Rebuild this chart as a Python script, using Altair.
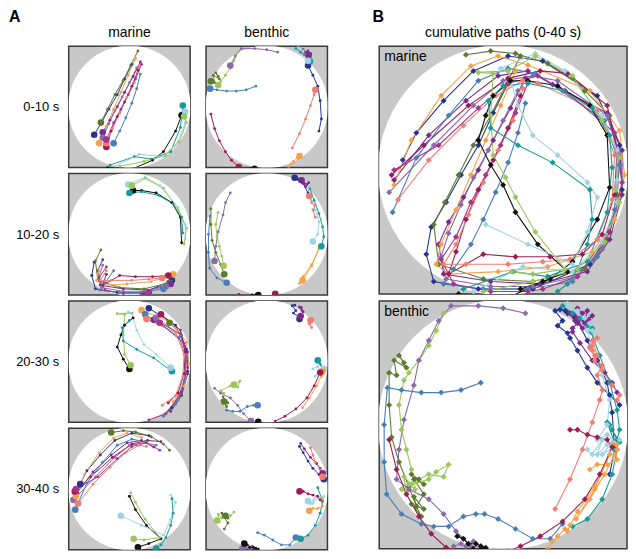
import altair as alt
import pandas as pd

# ---------------- data: positions (x 0-100 left->right, y 0-100 top->bottom), one sample every 2 s, t = 0..40 s
m_navy = [(52,15),(46,27),(40,40),(33,52),(27,63),(21,73),(19,84),(22,95),(40,98),(62,98),(85,88),
          (93,75),(98,58),(97,40),(88,20),(66,6),(52,4),(38,10),(26,22),(15,35),(9.5,46)]
m_olive = [(57,4),(51,16),(45,28),(38,40),(32,52),(26.5,63),(22,72),(24,88),(42,94),(62,95),(83,90),
           (92,78),(96,60),(96,42),(93,28),(83,18),(78,13),(68,7),(55,3),(45,2),(35,3.5)]
m_purple = [(59,13),(53,25),(46,38),(40,50),(34,61),(28,71),(24,80),(26,92),(45,95),(65,96),(84,91),
            (93,78),(98,60),(98,42),(92,27),(70,15.5),(60,10),(48,12),(35,22),(20,36),(6,54)]
m_lavender = [(56,18),(50,30),(44,42),(38,53),(33,64),(28,75.5),(25,85),(27,94),(45,97),(62,97),(80,93),
              (90,82),(96,63),(97,45),(92,28),(72,14),(62,12),(50,14),(38,24),(22,40),(4,59)]
m_orange = [(55,10),(49,24),(43,38),(37,52),(31,66),(25,80),(23,88),(28,92),(48,91),(68,89),(86,83),
            (95,70),(99,52),(97,34),(85,18),(60,7.6),(48,4),(37,8),(25,20),(13,38),(6,56)]
m_crimson = [(57,20),(52,33),(46,46),(40,58),(35,70),(31,83),(28,92),(42,84),(55,85),(69,85),(82,84),
             (90,76),(95,60),(96,42),(92,24),(76,11),(65,10),(52,13),(36,24),(18,40),(5,52)]
m_steel = [(59,23),(56,35),(52,47),(47,59),(42,70),(37,80),(30,90),(26,96),(42,98),(60,98),(78,95),
           (88,85),(95,66),(97,48),(91,30),(63,11),(52,9),(40,14),(28,28),(15,45),(5.4,67)]
m_salmon = [(58,17),(54,30),(48,42),(42,55),(36,68),(31,80),(26,88),(35,88),(52,88),(66,87),(77,86),
            (88,78),(94,62),(95,44),(88,26),(64,15),(58,14),(47,20),(34,32),(20,46),(7.6,62)]
m_magenta = [(60,15),(55,27),(49,40),(43,52),(37,63),(31,77),(25,86),(30,96),(45,99),(60,99),(66,98),
             (80,93),(93,75),(98,55),(95,35),(75,18),(64,12),(52,15),(40,25),(24,40),(6,50)]
m_black = [(32,100),(53,101),(69,94),(78,87),(88,70),(93,57),(92,36),(85,24),(72,16),(60,14),(53,14),
           (46,20),(43,28),(40,38),(45,48),(50,56),(55,67),(64,80),(76,91),(66,95),(57,98)]
m_teal = [(34,98),(54,91),(68,93),(84,87),(92,67),(94,49),(93,36),(86,25),(74,18),(60,15),(50,16),
          (44,22),(45,33),(56,40),(70,47),(85,58),(86,70),(84,80),(80,90),(76,96),(72,99)]
m_lightblue = [(38,99),(58,89),(78,91),(90,79),(96,63),(96,54),(96,42),(90,28),(75,10),(63,3),(49,9),
               (52,10),(56,24),(62,36),(72,44),(84,55),(88,61),(84,75),(78,88),(60,80),(43,72)]
m_lightgreen = [(42,99),(62,95),(80,90),(91,79),(97,63),(95,58),(97,45),(90,30),(78,12),(63,4),(52,10),
                (40,10.6),(46,11),(45,28),(46,44),(51,53),(55,61),(63,75),(75,90),(62,92),(53.5,91)]

b_steel = [(41,33),(33,36),(25,37),(17,37),(9,36),(3.3,35),(2,50),(2,65),(3,78),(9,86),(17,90),
           (22,91),(28,91),(34,87),(39,86),(42.5,86),(48,88),(55,92),(62,96),(69,96),(74,90)]
b_olive = [(10,25),(8,22),(11,27),(6,24),(7,30),(4,29),(4,42),(5,55),(8,65),(12,75),(15,83),
           (14,79),(18,84),(13,82),(17,87),(15,83),(18,78),(14,72),(18,74),(13,70),(16,72)]
b_lightgreen = [(26,5),(23,12),(20,18),(16,24),(12,29),(10,32),(8,42),(9,52),(11,60),(13,68),(14.5,76),
                (12,74),(20,70),(26,71),(28,66),(23,69),(20,72),(13,74),(10,71),(11,77),(9,76)]
b_lavender = [(59,5),(50,3),(40,2),(29,2),(24,8),(20,16),(16,24),(14,34),(10,48),(8,60),(7,72),
              (12,76),(20,80),(26,86),(31,93),(37,99),(41,99),(38,97),(35,99),(33,98),(30,99)]
b_navy = [(93,70),(95,60),(94,45),(92,33),(88,24),(84,16),(80,8),(76,5),(79,7),(75,4),(73,3.5),
          (71,4),(74,8),(72,10),(76,13),(77,15),(80,20),(84,27),(88,33),(93,38),(97,42)]
b_purple = [(80,3),(82,5),(84,4),(83,8),(86,6),(84.5,7.6),(83,9),(80,7),(82,11),(80,8),(78.6,5.6),
            (79,8),(77,5),(80,9),(78,11),(78,12.5),(81,17),(86,24),(91,29),(94,33),(96,37)]
b_teal = [(74,2),(78,5),(81,7),(84,10),(86,11),(85.5,12.5),(89,22),(93,33),(96,44),(97,52),(95,60),
          (97,57),(94,52),(96,56),(93,50),(92,49),(96,60),(94,70),(90,80),(84,88),(78,91)]
b_lightblue = [(76,1),(80,4),(83,7),(85,9),(86,12),(84,12),(86,20),(90,30),(93,40),(92,50),(88,56),
               (92,54),(96,58),(90,62),(94,57),(97,56),(92,58),(88,62),(90,56),(86,62),(84,60)]
b_salmon = [(71,84),(77,72),(82,60),(86,49),(89,40),(90,36),(88,30),(90,26),(87,24),(86,20),(85,18.5),
            (87,22),(85,19),(88,15),(86,18),(86,16),(88,22),(90,28),(94,34),(97,38),(96,40)]
b_orange = [(68,100),(70,97),(72,95),(75,92),(76,93),(77,90.5),(80,85),(87,75),(93,62),(87,76),(79.5,88),
            (85,80),(91,70),(95,62),(96,60),(96,58),(94,58),(96,64),(92,66),(88,66),(85,68)]
b_crimson = [(4,56),(7,68),(11,78),(16,87),(21,94),(27,99.5),(33,101),(40,101),(46,101),(52,101),(57,99),
             (65,95),(74,89),(83,80),(89,70),(94,59),(92,56),(88,55),(84,54),(80,52),(77,52)]
b_black = [(36,101),(38,102),(37,101),(39,102),(38,101),(40,101),(41,100),(40,101),(38,100),(39,101),(43,100),
           (41,101),(42,100),(40,101),(42,100),(43,99.6),(41,99),(39,98),(36,98),(34,96),(31.5,95)]

fish_names = ["navy", "olive", "purple", "lavender", "orange", "crimson", "steel", "salmon",
              "magenta", "black", "teal", "lightblue", "lightgreen"]
fish_colors = ["#27348f", "#5b7a2e", "#7b2b8f", "#8a6aa9", "#f5a14b", "#9e1b55", "#4a7eb6", "#f27c70",
               "#a8338a", "#111111", "#189a9a", "#9ed3e5", "#9bc65b"]

row_labels = ["0-10 s", "10-20 s", "20-30 s", "30-40 s"]

marine_tracks = [("navy", m_navy), ("olive", m_olive), ("purple", m_purple), ("lavender", m_lavender),
                 ("orange", m_orange), ("crimson", m_crimson), ("steel", m_steel), ("salmon", m_salmon),
                 ("magenta", m_magenta), ("black", m_black), ("teal", m_teal),
                 ("lightblue", m_lightblue), ("lightgreen", m_lightgreen)]
benthic_tracks = [("steel", b_steel), ("olive", b_olive), ("lightgreen", b_lightgreen),
                  ("lavender", b_lavender), ("navy", b_navy), ("purple", b_purple), ("teal", b_teal),
                  ("lightblue", b_lightblue), ("salmon", b_salmon), ("orange", b_orange),
                  ("crimson", b_crimson), ("black", b_black)]


def to_frame(tracks):
    rows = []
    for name, pts in tracks:
        for i, (x, y) in enumerate(pts):
            rows.append({"fish": name, "idx": i, "t": 2 * i, "x": x, "y": y})
    return pd.DataFrame(rows)


mdf = to_frame(marine_tracks)
bdf = to_frame(benthic_tracks)

FONT = "Liberation Sans"
GRAY = "#c8c8c8"
SW, SH = 122, 122
BW, BH = 249, 249

color = alt.Color("fish:N", scale=alt.Scale(domain=fish_names, range=fish_colors), legend=None)


def xenc():
    return alt.X("x:Q", scale=alt.Scale(domain=[0, 100], nice=False, zero=False), axis=None)


def yenc(label=None, h=SH):
    if label is None:
        ax = None
    else:
        ax = alt.Axis(title=label, labels=False, ticks=False, domain=False, grid=False,
                      titleAngle=0, titleAlign="right", titleBaseline="middle",
                      titleX=-10, titleY=h / 2, titleFont=FONT, titleFontSize=13,
                      titleFontWeight="normal", titleColor="#000")
    return alt.Y("y:Q", scale=alt.Scale(domain=[0, 100], reverse=True, nice=False, zero=False), axis=ax)


def arena(w, label=None, h=SH):
    d = w * 1.01
    return alt.Chart(pd.DataFrame({"x": [50], "y": [50]})).mark_point(
        shape="circle", filled=True, color="white", fill="white", opacity=1,
        size=d * d, strokeWidth=0, clip=True
    ).encode(x=xenc(), y=yenc(label, h))


def small(df, k, label=None, title=None):
    seg = df[(df.idx >= 5 * k) & (df.idx <= 5 * k + 5)]
    end = seg[seg.idx == 5 * k + 5]
    base = alt.Chart(seg).encode(x=xenc(), y=yenc(label), color=color)
    lines = base.mark_line(strokeWidth=1, clip=True).encode(detail="fish:N", order="t:Q")
    dots = base.mark_circle(size=8, opacity=1, clip=True)
    ends = alt.Chart(end).mark_circle(size=44, opacity=1, clip=True).encode(
        x=xenc(), y=yenc(label), color=color)
    ch = alt.layer(arena(SW, label), lines, dots, ends).properties(width=SW, height=SH)
    if title:
        ch = ch.properties(title=alt.TitleParams(title, font=FONT, fontSize=14, fontWeight="normal",
                                                 color="#000", offset=6))
    return ch


def big(df, label, title=None):
    base = alt.Chart(df).encode(x=xenc(), y=yenc(None, BH), color=color)
    lines = base.mark_line(strokeWidth=1.1, clip=True).encode(detail="fish:N", order="t:Q")
    pts = base.mark_point(shape="diamond", filled=True, size=36, opacity=1, clip=True)
    txt = alt.Chart(pd.DataFrame({"a": [0]})).mark_text(
        text=label, align="left", baseline="top", font=FONT, fontSize=14, color="#000"
    ).encode(x=alt.value(5), y=alt.value(4))
    ch = alt.layer(arena(BW, None, BH), lines, pts, txt).properties(width=BW, height=BH)
    if title:
        ch = ch.properties(title=alt.TitleParams(title, font=FONT, fontSize=14, fontWeight="normal",
                                                 color="#000", offset=6))
    return ch


col_m = alt.vconcat(*[small(mdf, k, label=row_labels[k], title="marine" if k == 0 else None)
                      for k in range(4)], spacing=6, bounds="flush")
col_b = alt.vconcat(*[small(bdf, k, title="benthic" if k == 0 else None)
                      for k in range(4)], spacing=6, bounds="flush")

left = alt.hconcat(col_m, col_b, spacing=14,
                   title=alt.TitleParams("A", anchor="start", font=FONT, fontSize=16,
                                         fontWeight="bold", color="#000", offset=0, dx=-6))
right = alt.vconcat(big(mdf, "marine", title="cumulative paths (0-40 s)"), big(bdf, "benthic"),
                    spacing=7, bounds="flush",
                    title=alt.TitleParams("B", anchor="start", font=FONT, fontSize=16,
                                          fontWeight="bold", color="#000", offset=0, dx=-6))

chart = alt.hconcat(left, right, spacing=44).properties(padding=0).configure_view(
    fill=GRAY, stroke="#3a3a3a", strokeWidth=1.5
)

chart.save("out.html", embed_options={"renderer": "svg", "actions": False})
